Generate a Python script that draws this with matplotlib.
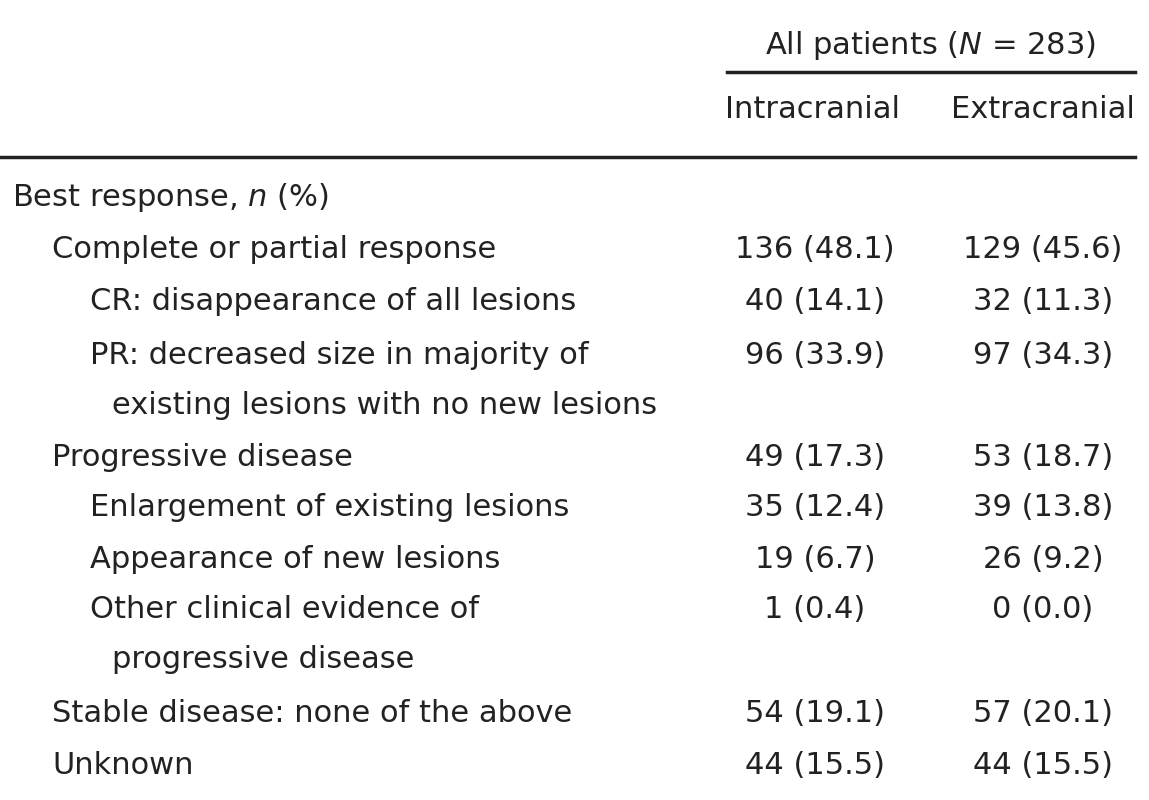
import matplotlib.pyplot as plt

header = "All patients ($\\mathit{N}$ = 283)"
col_labels = ["Intracranial", "Extracranial"]
row_labels = [
    "Best response, $\\mathit{n}$ (%)",
    "Complete or partial response",
    "CR: disappearance of all lesions",
    "PR: decreased size in majority of",
    "existing lesions with no new lesions",
    "Progressive disease",
    "Enlargement of existing lesions",
    "Appearance of new lesions",
    "Other clinical evidence of",
    "progressive disease",
    "Stable disease: none of the above",
    "Unknown",
]
indent = [0, 1, 2, 2, 3, 1, 2, 2, 2, 3, 1, 1]
intracranial = ["", "136 (48.1)", "40 (14.1)", "96 (33.9)", "", "49 (17.3)", "35 (12.4)",
                "19 (6.7)", "1 (0.4)", "", "54 (19.1)", "44 (15.5)"]
extracranial = ["", "129 (45.6)", "32 (11.3)", "97 (34.3)", "", "53 (18.7)", "39 (13.8)",
                "26 (9.2)", "0 (0.0)", "", "57 (20.1)", "44 (15.5)"]

W, H = 1149, 800
fig = plt.figure(figsize=(W / 100, H / 100), dpi=100)
ax = fig.add_axes([0, 0, 1, 1])
ax.set_xlim(0, W)
ax.set_ylim(H, 0)
ax.axis("off")

fs = 22
col = "#222222"
indent_x = [12, 52, 90, 112]
row_y = [197, 250, 302, 355, 405, 458, 508, 560, 610, 660, 713, 765]

ax.text(930, 45, header, fontsize=fs, ha="center", va="center", color=col)
ax.plot([727, 1135], [72, 72], color=col, lw=2.5)
ax.text(812, 110, col_labels[0], fontsize=fs, ha="center", va="center", color=col)
ax.text(1043, 110, col_labels[1], fontsize=fs, ha="center", va="center", color=col)
ax.plot([0, 1135], [157, 157], color=col, lw=2.5)

for lab, ind, y, a, b in zip(row_labels, indent, row_y, intracranial, extracranial):
    ax.text(indent_x[ind], y, lab, fontsize=fs, ha="left", va="center", color=col)
    ax.text(815, y, a, fontsize=fs, ha="center", va="center", color=col)
    ax.text(1043, y, b, fontsize=fs, ha="center", va="center", color=col)

fig.savefig("out.png", dpi=100, facecolor="white")
